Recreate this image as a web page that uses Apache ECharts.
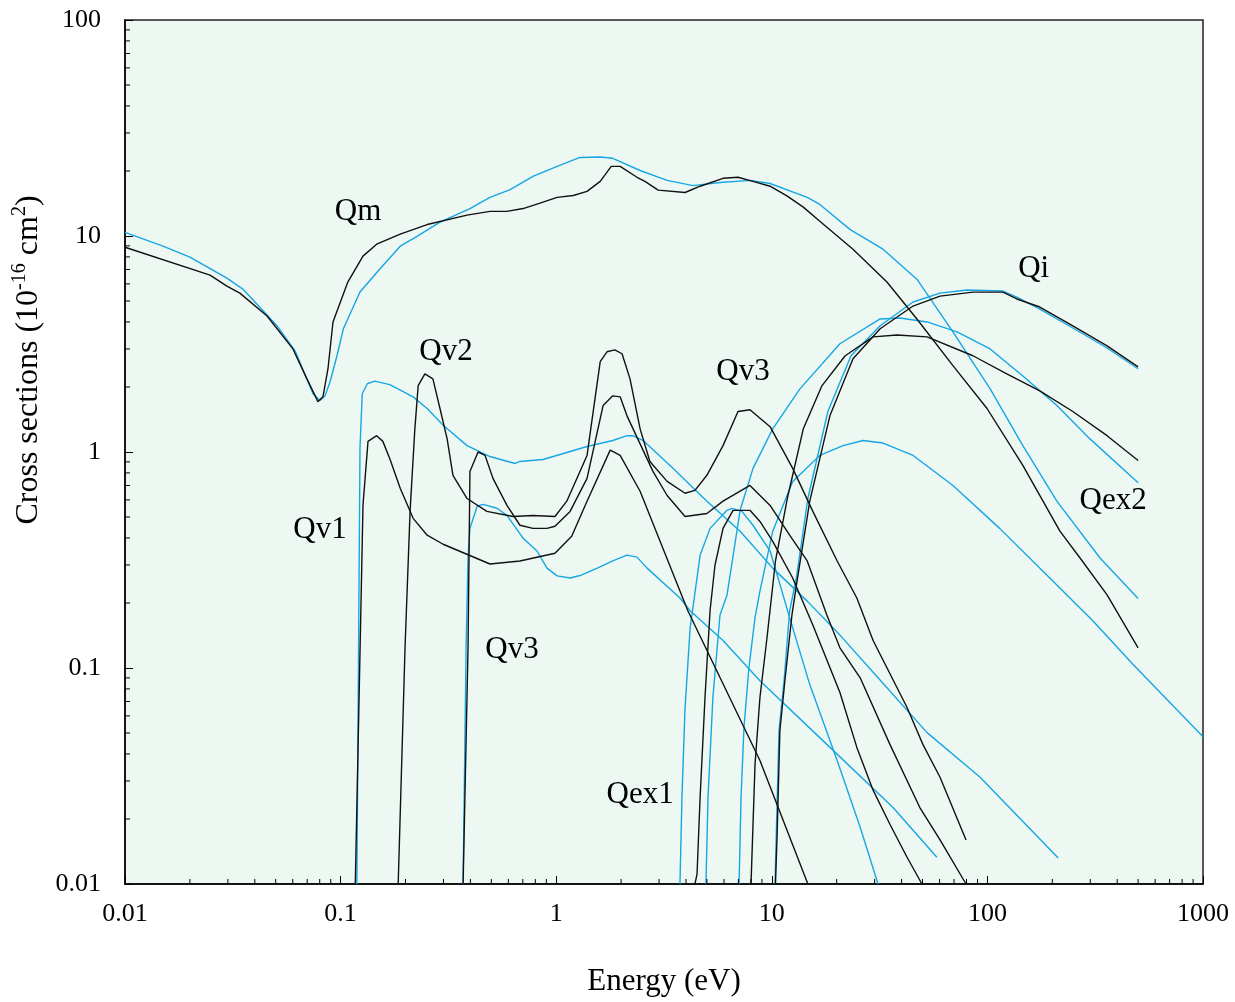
<!DOCTYPE html>
<html>
<head>
<meta charset="utf-8">
<script src="https://cdn.jsdelivr.net/npm/echarts@6/dist/echarts.min.js"></script>
<style>
html,body{margin:0;padding:0;background:#ffffff;}
#chart{width:1235px;height:1002px;}
</style>
</head>
<body>
<div id="chart"></div>
<script>
// ---- axis ticks ----
const xTicks = [0.01, 0.1, 1, 10, 100, 1000];
const yTicks = [0.01, 0.1, 1, 10, 100];
const minorSteps = [2, 3, 4, 5, 6, 7, 8, 9];

// ---- curves: [energy (eV), cross section (1e-16 cm2)] ----
const qmBlack = [[0.01,8.87],[0.0248,6.59],[0.0297,5.86],[0.0341,5.44],[0.0456,4.26],[0.0601,3.00],[0.0698,2.18],[0.0785,1.71],[0.0828,1.80],[0.0874,2.43],[0.0922,4.00],[0.108,6.12],[0.127,8.07],[0.147,9.16],[0.189,10.2],[0.252,11.3],[0.386,12.5],[0.493,13.0],[0.591,13.0],[0.702,13.4],[0.841,14.2],[1.01,15.1],[1.20,15.4],[1.39,16.1],[1.60,17.9],[1.80,21.0],[1.98,21.0],[2.37,18.7],[2.58,17.9],[2.97,16.3],[3.96,15.9],[4.65,17.0],[5.94,18.5],[6.97,18.7],[8.18,17.9],[9.82,17.0],[11.8,15.3],[14.0,13.6],[16.7,11.7],[23.8,8.69],[34.2,6.12],[47.1,4.13],[69.2,2.51],[99.6,1.59],[146,0.867],[217,0.430],[269,0.323],[359,0.218],[500,0.124]];
const qmCyan = [[0.01,10.4],[0.0150,8.97],[0.0200,7.98],[0.0297,6.38],[0.0352,5.68],[0.0507,3.84],[0.0615,2.94],[0.0745,1.86],[0.0802,1.73],[0.0847,1.82],[0.0893,2.11],[0.0962,2.79],[0.103,3.72],[0.123,5.50],[0.152,7.03],[0.189,8.97],[0.226,9.97],[0.289,11.6],[0.398,13.4],[0.493,15.1],[0.611,16.4],[0.780,18.9],[1.01,21.0],[1.29,23.1],[1.60,23.2],[1.83,22.9],[2.45,20.1],[3.27,18.1],[4.31,17.1],[5.75,17.7],[7.92,18.1],[9.82,17.5],[14.6,15.1],[16.7,14.0],[23.1,10.7],[32.8,8.69],[47.1,6.31],[69.2,3.60],[103,1.96],[146,1.07],[210,0.592],[333,0.323],[500,0.210]];
const qv1Black = [[0.117,0.01],[0.127,0.566],[0.134,1.12],[0.147,1.19],[0.157,1.12],[0.169,0.933],[0.189,0.679],[0.217,0.493],[0.252,0.412],[0.299,0.374],[0.493,0.303],[0.679,0.313],[0.987,0.340],[1.18,0.407],[1.39,0.592],[1.78,1.02],[1.98,0.964],[2.45,0.658],[4.08,0.184],[8.81,0.0373],[14.7,0.01]];
const qv2Black = [[0.185,0.01],[0.199,0.124],[0.210,0.531],[0.221,1.28],[0.229,2.03],[0.246,2.30],[0.268,2.18],[0.289,1.59],[0.312,1.15],[0.332,0.780],[0.386,0.609],[0.477,0.531],[0.630,0.503],[0.780,0.508],[0.987,0.503],[1.12,0.592],[1.39,0.964],[1.60,2.62],[1.72,2.91],[1.87,2.97],[2.02,2.85],[2.20,2.18],[2.45,1.28],[2.72,0.904],[3.27,0.731],[3.96,0.644],[4.40,0.664],[5.00,0.780],[5.94,1.07],[6.97,1.54],[7.92,1.57],[9.82,1.31],[12.5,0.840],[15.5,0.531],[20.1,0.313],[24.8,0.211],[29.5,0.134],[36.1,0.0901],[42.4,0.0656],[50.2,0.0443],[60.3,0.0312],[79.6,0.0160]];
const qv3Black = [[0.370,0.01],[0.390,0.124],[0.398,0.813],[0.434,1.00],[0.468,0.964],[0.509,0.755],[0.591,0.566],[0.679,0.458],[0.780,0.443],[0.906,0.443],[0.987,0.453],[1.16,0.531],[1.39,0.755],[1.65,1.64],[1.83,1.82],[1.98,1.80],[2.13,1.47],[2.45,1.09],[2.81,0.813],[3.27,0.629],[3.96,0.503],[5.00,0.519],[5.94,0.592],[7.92,0.700],[9.82,0.566],[12.1,0.412],[14.6,0.313],[18.0,0.176],[20.7,0.124],[25.7,0.0901],[35.3,0.0443],[48.6,0.0226],[60.3,0.0160],[79.6,0.01]];
const qex1Black = [[4.40,0.01],[4.50,0.0111],[4.65,0.0252],[4.90,0.0730],[5.17,0.184],[5.45,0.299],[5.94,0.443],[6.61,0.537],[7.92,0.537],[8.81,0.477],[10.1,0.386],[12.5,0.261],[15.5,0.158],[20.7,0.077],[24.8,0.0429],[29.5,0.0272],[35.3,0.0189],[42.4,0.0133],[49.7,0.01]];
const qex2Black = [[8.01,0.01],[8.36,0.0358],[8.81,0.0730],[9.50,0.138],[10.4,0.313],[11.8,0.609],[14.0,1.28],[17.1,2.03],[21.9,2.79],[29.5,3.41],[38.1,3.48],[52.5,3.41],[85.7,2.79],[123,2.30],[175,1.92],[249,1.54],[359,1.19],[500,0.914]];
const qiBlack = [[10.4,0.01],[10.6,0.0177],[10.9,0.0513],[11.5,0.0873],[12.4,0.176],[13.1,0.253],[15.0,0.592],[18.6,1.47],[23.8,2.70],[31.8,3.72],[45.2,4.74],[60.3,5.27],[85.7,5.50],[118,5.50],[137,5.11],[175,4.69],[249,3.84],[359,3.10],[500,2.48]];
const qiCyan = [[10.35,0.01],[10.5,0.0177],[10.8,0.0513],[11.4,0.0873],[12.1,0.184],[13.0,0.261],[14.7,0.609],[18.2,1.54],[23.3,2.79],[31.8,3.84],[45.2,4.95],[60.3,5.44],[80.4,5.62],[118,5.56],[137,5.21],[175,4.59],[249,3.75],[359,3.03],[500,2.43]];
const qv1Cyan = [[0.119,0.01],[0.122,0.323],[0.123,1.04],[0.126,1.86],[0.133,2.07],[0.144,2.13],[0.169,2.05],[0.217,1.80],[0.252,1.59],[0.299,1.33],[0.386,1.07],[0.493,0.953],[0.644,0.885],[0.679,0.904],[0.869,0.923],[1.08,0.984],[1.39,1.06],[1.83,1.13],[2.13,1.19],[2.27,1.19],[2.53,1.13],[3.48,0.840],[5.00,0.592],[7.13,0.430],[10.1,0.290],[14.6,0.204],[20.7,0.142],[31.1,0.0901],[52.5,0.0502],[92.5,0.0312],[213,0.0132]];
const qv3Cyan = [[0.370,0.01],[0.382,0.124],[0.390,0.323],[0.398,0.443],[0.430,0.561],[0.458,0.572],[0.531,0.549],[0.591,0.509],[0.702,0.399],[0.815,0.348],[0.906,0.290],[1.01,0.267],[1.16,0.261],[1.29,0.268],[1.55,0.290],[1.83,0.313],[2.13,0.333],[2.37,0.326],[2.64,0.290],[3.75,0.211],[4.18,0.184],[5.94,0.134],[8.81,0.0873],[18.0,0.0443],[36.5,0.0226],[58.3,0.0133]];
const qex1Cyan = [[3.75,0.01],[3.83,0.0252],[3.96,0.0656],[4.18,0.153],[4.65,0.333],[5.17,0.443],[6.20,0.537],[6.53,0.548],[7.27,0.531],[8.18,0.458],[9.82,0.348],[12.1,0.171],[15.0,0.0838],[20.1,0.0373],[25.7,0.0183],[31.1,0.01]];
const qex2Cyan = [[4.95,0.01],[5.06,0.0252],[5.33,0.0730],[5.75,0.176],[6.20,0.218],[7.13,0.537],[8.18,0.840],[10.1,1.28],[13.5,1.96],[20.7,3.17],[31.8,4.13],[39.3,4.17],[52.5,4.00],[72.3,3.60],[103,3.00],[146,2.25],[210,1.64],[299,1.15],[500,0.72]];
const qex3Cyan = [[7.05,0.01],[7.20,0.0252],[7.43,0.0530],[7.83,0.100],[8.36,0.171],[8.81,0.227],[10.1,0.430],[12.5,0.731],[16.7,0.964],[21.4,1.07],[26.5,1.13],[32.8,1.10],[45.2,0.964],[69.2,0.700],[114,0.443],[189,0.269],[309,0.165],[473,0.104],[1000,0.048]];

// ---- curve labels: [energy, cross section, text] ----
const curveLabels = [[0.1205,13.0,'Qm'],[0.308,2.91,'Qv2'],[0.0802,0.435,'Qv1'],[7.35,2.35,'Qv3'],[0.624,0.121,'Qv3'],[2.45,0.026,'Qex1'],[164,7.03,'Qi'],[383,0.592,'Qex2']];

const BLACK = '#111111';
const CYAN = '#16a6e6';
const PLOT_BG = '#eef8f3';
const FONT = "'Liberation Serif', 'DejaVu Serif', serif";

const blackCurves = [qmBlack, qv1Black, qv2Black, qv3Black, qex1Black, qex2Black, qiBlack];
const cyanCurves = [qmCyan, qv1Cyan, qv3Cyan, qex1Cyan, qex2Cyan, qex3Cyan, qiCyan];

const xMinor = [];
xTicks.slice(0, -1).forEach(d => minorSteps.forEach(m => xMinor.push(+(d * m).toPrecision(3))));
const yMinor = [];
yTicks.slice(0, -1).forEach(d => minorSteps.forEach(m => yMinor.push(+(d * m).toPrecision(3))));

function lineSeries(data, color) {
  return {
    type: 'line', data: data, showSymbol: false, symbol: 'none', smooth: false,
    lineStyle: { color: color, width: 1.4 }, z: color === CYAN ? 3 : 4,
    silent: true, animation: false
  };
}

function minorTickSeries(vals, isX) {
  return {
    type: 'custom', silent: true, animation: false, clip: false, z: 6,
    data: vals.map(v => isX ? [v, yTicks[0]] : [xTicks[0], v]),
    renderItem: function (params, api) {
      const p = api.coord([api.value(0), api.value(1)]);
      return {
        type: 'line',
        shape: isX ? { x1: p[0], y1: p[1], x2: p[0], y2: p[1] - 5 }
                   : { x1: p[0], y1: p[1], x2: p[0] + 5, y2: p[1] },
        style: { stroke: '#000', lineWidth: 1 }
      };
    }
  };
}

const fmt = v => String(Number(Number(v).toPrecision(2)));

const series = [];
cyanCurves.forEach(c => series.push(lineSeries(c, CYAN)));
blackCurves.forEach(c => series.push(lineSeries(c, BLACK)));
series.push(minorTickSeries(xMinor, true));
series.push(minorTickSeries(yMinor, false));
series.push({
  type: 'scatter', data: curveLabels, symbolSize: 1, silent: true, animation: false,
  itemStyle: { color: PLOT_BG, opacity: 1 }, z: 10,
  label: {
    show: true, position: 'inside', formatter: p => p.data[2], opacity: 1,
    color: '#000', fontFamily: FONT, fontSize: 31, align: 'center', verticalAlign: 'middle',
    textBorderWidth: 0
  }
});

const chart = echarts.init(document.getElementById('chart'), null, { renderer: 'canvas' });
chart.setOption({
  animation: false,
  backgroundColor: '#ffffff',
  grid: {
    left: 125, right: 32, top: 20, bottom: 115,
    show: true, backgroundColor: PLOT_BG, borderColor: '#222', borderWidth: 1.5
  },
  xAxis: {
    type: 'log', logBase: 10, min: xTicks[0], max: xTicks[xTicks.length - 1],
    name: 'Energy (eV)', nameLocation: 'middle', nameGap: 82,
    nameTextStyle: { fontFamily: FONT, fontSize: 31, color: '#000' },
    axisLine: { show: true, lineStyle: { color: '#000', width: 1.5 } },
    axisTick: { show: true, inside: true, length: 8, lineStyle: { color: '#000', width: 1 } },
    axisLabel: { fontFamily: FONT, fontSize: 26, color: '#000', margin: 17, formatter: fmt },
    splitLine: { show: false }, minorTick: { show: false }
  },
  yAxis: {
    type: 'log', logBase: 10, min: yTicks[0], max: yTicks[yTicks.length - 1],
    axisLine: { show: true, lineStyle: { color: '#000', width: 1.5 } },
    axisTick: { show: true, inside: true, length: 8, lineStyle: { color: '#000', width: 1 } },
    axisLabel: { fontFamily: FONT, fontSize: 26, color: '#000', margin: 24, formatter: fmt },
    splitLine: { show: false }, minorTick: { show: false }
  },
  graphic: [{
    type: 'text', x: 29, y: 360, rotation: Math.PI / 2, silent: true,
    style: {
      text: '{n|Cross sections (10}{s|-16}{n| cm}{s|2}{n|)}',
      align: 'center', verticalAlign: 'middle',
      rich: {
        n: { fontFamily: FONT, fontSize: 32, fill: '#000', lineHeight: 38 },
        s: { fontFamily: FONT, fontSize: 20, fill: '#000', lineHeight: 22, verticalAlign: 'top' }
      }
    }
  }],
  series: series
});
</script>
</body>
</html>
